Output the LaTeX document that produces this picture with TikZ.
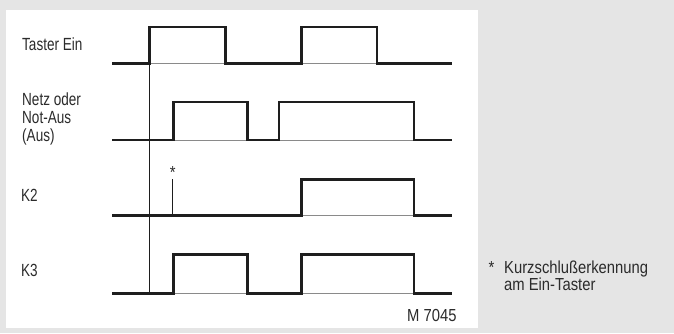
\documentclass[tikz,border=0pt]{standalone}
\usepackage{fontspec}
\setmainfont{Liberation Sans}[FakeStretch=0.77]
\newfontfamily\notefont{Liberation Sans}[FakeStretch=0.85]
\definecolor{bg}{HTML}{E5E5E5}
\definecolor{ink}{HTML}{1E1E1E}
\definecolor{txt}{HTML}{2B2B2B}
\definecolor{base}{HTML}{8A8A8A}
\begin{document}
\begin{tikzpicture}[x=1pt,y=-1pt,
  lbl/.style={anchor=base west,inner sep=0pt,text=txt,font=\fontsize{17.6}{18}\selectfont},
  note/.style={anchor=base west,inner sep=0pt,text=txt,font=\notefont\fontsize{17.4}{18}\selectfont},
  sig/.style={draw=ink,line width=2.6pt,line join=miter},
  baseln/.style={draw=base,line width=1pt},
  thin/.style={draw=ink,line width=0.9pt}]
\useasboundingbox (0,0) rectangle (674,333);
\fill[bg] (0,0) rectangle (674,333);
\fill[white] (6,9.5) rectangle (478,328);
% labels
\node[lbl] (taster) at (22,50) {Taster Ein};
\node[lbl] (netz1) at (22,105) {Netz oder};
\node[lbl] (netz2) at (22,123.3) {Not-Aus};
\node[lbl] (netz3) at (22,141.5) {(Aus)};
\node[lbl] (k2) at (21,201.7) {K2};
\node[lbl] (k3) at (21,276.7) {K3};
\node[note,anchor=base east] (mnum) at (456.7,321) {M 7045};
\node[note] (star2) at (488.5,273.3) {*};
\node[note] (fn1) at (504,273.3) {Kurzschlußerkennung};
\node[note] (fn2) at (504,290) {am Ein-Taster};
% baselines (thin under pulses)
\foreach \y in {63.5,140,215.5,293.5}
  \draw[baseln] (112,\y) -- (452,\y);
% Taster Ein
\draw[sig] (112,63.5) -- (149.3,63.5) -- (149.3,27) -- (225.5,27) -- (225.5,63.5)
  -- (301.5,63.5) -- (301.5,27) -- (377,27) -- (377,63.5) -- (452,63.5);
% Netz oder Not-Aus
\draw[sig] (112,140) -- (173.5,140) -- (173.5,102) -- (247.5,102) -- (247.5,140)
  -- (279,140) -- (279,102) -- (414,102) -- (414,140) -- (452,140);
% K2
\draw[sig] (112,215.5) -- (301.5,215.5) -- (301.5,179.5) -- (414,179.5) -- (414,215.5) -- (452,215.5);
\coordinate (spikebot) at (172.7,215.5);
\coordinate (spiketop) at (172.7,178.5);
\draw[thin] (spikebot) -- (spiketop);
\node[note,anchor=base] (star1) at (172.7,178.3) {*};
% K3
\draw[sig] (112,293.5) -- (173.5,293.5) -- (173.5,254.5) -- (247.5,254.5) -- (247.5,293.5)
  -- (301.5,293.5) -- (301.5,254.5) -- (414,254.5) -- (414,293.5) -- (452,293.5);
% vertical reference line
\coordinate (vtop) at (149.3,63.5);
\coordinate (vbot) at (149.3,293.5);
\draw[thin] (vtop) -- (vbot);
\end{tikzpicture}
\end{document}
